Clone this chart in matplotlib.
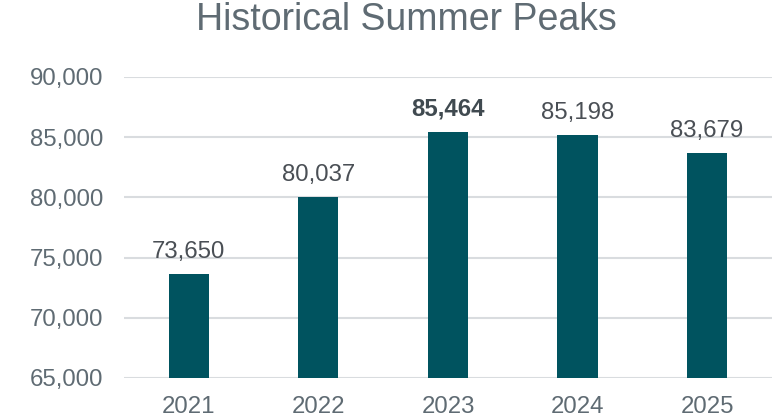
import matplotlib.pyplot as plt
from matplotlib.ticker import FuncFormatter

years = ['2021', '2022', '2023', '2024', '2025']
peaks = [73650, 80037, 85464, 85198, 83679]
highlight = '2023'

plt.rcParams['font.family'] = ['Liberation Sans', 'DejaVu Sans']

fig = plt.figure(figsize=(7.75, 4.18), dpi=100)
ax = fig.add_axes([0.160, 0.0957, 0.836, 0.7201])

x = range(len(years))
bars = ax.bar(x, peaks, width=0.31, color='#00535F', zorder=3)

ax.set_ylim(65000, 90000)
ax.set_xlim(-0.5, len(years) - 0.5)
ax.set_yticks(range(65000, 90001, 5000))
ax.yaxis.set_major_formatter(FuncFormatter(lambda v, p: f'{int(v):,}'))
ax.set_xticks(list(x))
ax.set_xticklabels(years)
ax.grid(axis='y', color='#D9DCDF', linewidth=1.5, zorder=0)
for s in ax.spines.values():
    s.set_visible(False)
ax.tick_params(length=0, labelsize=17.3, labelcolor='#5F6B73')
ax.tick_params(axis='y', pad=15)
ax.tick_params(axis='x', pad=13)

for yr, b, v in zip(years, bars, peaks):
    bold = yr == highlight
    ax.text(b.get_x() + b.get_width() / 2, v + 1330, f'{v:,}',
            ha='center', va='baseline', fontsize=17.3,
            color='#404A50' if bold else '#4A4F55',
            fontweight='bold' if bold else 'normal')

fig.suptitle('Historical Summer Peaks', x=0.524, y=0.995, va='top',
             fontsize=27, color='#5F6B73')

fig.savefig('out.png', dpi=100)
